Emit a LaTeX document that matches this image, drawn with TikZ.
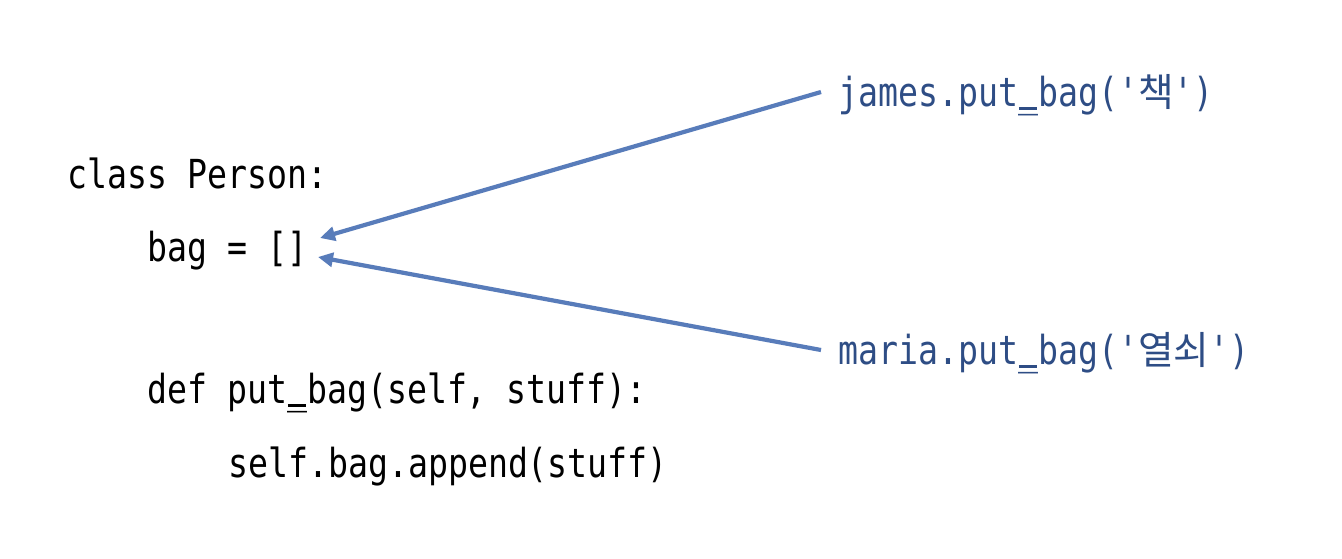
\documentclass[tikz,border=0pt]{standalone}
\usepackage{fontspec}
\usetikzlibrary{arrows.meta}
\newfontfamily\code[FakeStretch=0.83,Ligatures=TeXOff]{DejaVu Sans Mono}
\newfontfamily\kr[Scale=0.97]{Noto Sans CJK KR}
\definecolor{txtblue}{HTML}{2E4D85}
\definecolor{arrblue}{HTML}{587CBA}
\newcommand{\us}{\rlap{\hspace{0.02em}\rule[-3.5pt]{0.46em}{2.6pt}}\char"5F}
\tikzset{
  codetxt/.style={anchor=base west,inner sep=0pt,font=\code\fontsize{40}{40}\selectfont},
  calltxt/.style={codetxt,text=txtblue},
  arr/.style={draw=arrblue,line width=4.2pt,-{Triangle[length=15pt,width=14pt]}}
}
\begin{document}
\begin{tikzpicture}[x=1pt,y=-1pt]
\useasboundingbox[fill=white] (0,0) rectangle (1342,558);
\node[codetxt] (cls) at (67,188) {class Person:};
\node[codetxt] (bag) at (147,261) {bag = []};
\node[codetxt] (def) at (147,403) {def put\us bag(self, stuff):};
\node[codetxt] (app) at (228,477) {self.bag.append(stuff)};
\node[calltxt] (james) at (838,106) {james.put\us bag('{\kr 책}')};
\node[calltxt] (maria) at (838,364) {maria.put\us bag('{\kr 열쇠}')};
\coordinate (js) at (821,92);
\coordinate (ms) at (821,350);
\coordinate (bagA) at (320,238);
\coordinate (bagB) at (318,257);
\draw[arr] (js) -- (bagA);
\draw[arr] (ms) -- (bagB);
\end{tikzpicture}
\end{document}
